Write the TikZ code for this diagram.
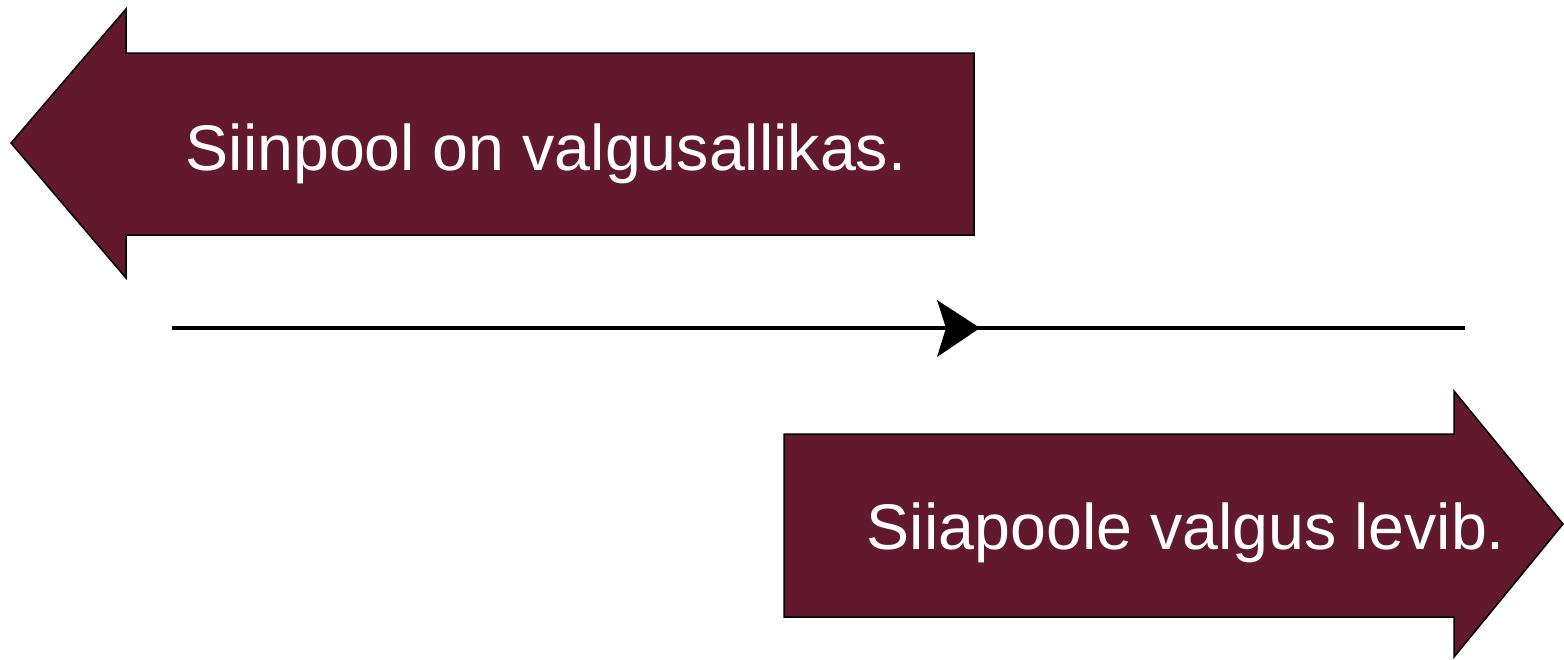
\documentclass[tikz,border=0pt]{standalone}
\usepackage{fontspec}
\setmainfont{Liberation Sans}
\definecolor{maroon}{RGB}{99,25,45}
\begin{document}
\begin{tikzpicture}[x=1pt,y=-1pt,
  bigarrow/.style={fill=maroon,draw=black,line width=1.5pt,line join=miter},
  label/.style={text=white,font=\fontsize{64.5}{76}\selectfont,inner sep=0pt,anchor=base}]
\useasboundingbox (0,0) rectangle (1564,659);
\path[bigarrow] (11,143) -- (126,9) -- (126,53) -- (974,53) -- (974,235) -- (126,235) -- (126,278) -- cycle;
\path[bigarrow] (784,434) -- (1454,434) -- (1454,391) -- (1563,524) -- (1454,657) -- (1454,617) -- (784,617) -- cycle;
\node[label] (top) at (546,170) {Siinpool on valgusallikas.};
\node[label] (bot) at (1186,549) {Siiapoole valgus levib.};
\coordinate (ls) at (172,328);
\coordinate (le) at (1465,328);
\coordinate (tip) at (980,328);
\draw[line width=4pt] (ls) -- (le);
\fill (tip) -- (937,300) -- (946,328) -- (937,357) -- cycle;
\end{tikzpicture}
\end{document}
